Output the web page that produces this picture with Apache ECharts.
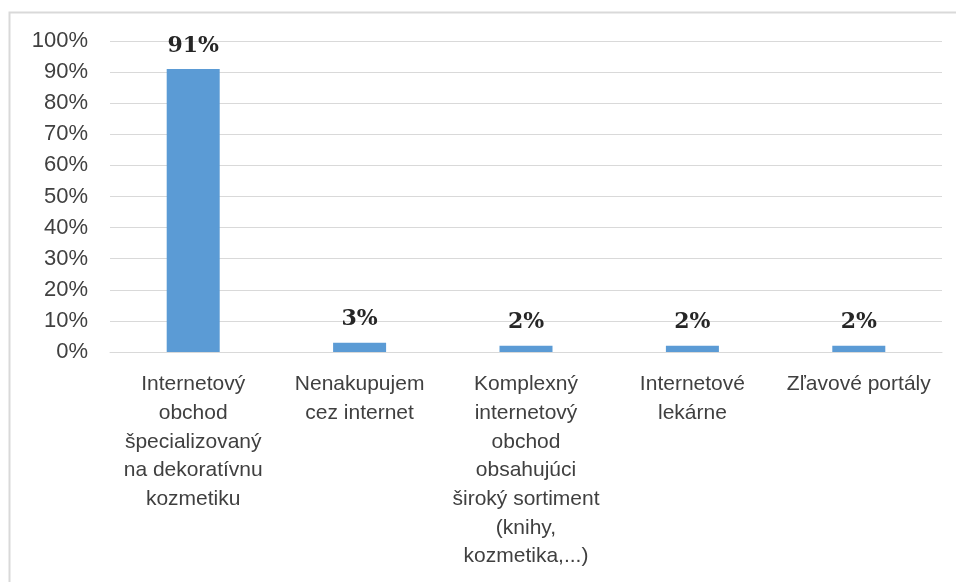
<!DOCTYPE html>
<html>
<head>
<meta charset="utf-8">
<script src="https://cdn.jsdelivr.net/npm/echarts@6/dist/echarts.min.js"></script>
<style>
  html, body { margin: 0; padding: 0; background: #fff; }
  #chart { width: 956px; height: 582px; }
</style>
</head>
<body>
<div id="chart"></div>
<script>
const categories = [
  "Internetový\nobchod\nšpecializovaný\nna dekoratívnu\nkozmetiku",
  "Nenakupujem\ncez internet",
  "Komplexný\ninternetový\nobchod\nobsahujúci\nširoký sortiment\n(knihy,\nkozmetika,...)",
  "Internetové\nlekárne",
  "Zľavové portály"
];
const shares = [91, 3, 2, 2, 2];

const chart = echarts.init(document.getElementById("chart"));

chart.setOption({
  animation: false,
  graphic: [
    {
      type: "rect",
      shape: { x: 9.5, y: 12.5, width: 1000, height: 700 },
      style: { fill: "none", stroke: "#d9d9d9", lineWidth: 2 }
    }
  ],
  grid: {
    left: 110,
    right: 14,
    top: 41,
    bottom: 230
  },
  xAxis: {
    type: "category",
    data: categories,
    axisTick: { show: false },
    axisLine: { lineStyle: { color: "#d9d9d9", width: 1 } },
    axisLabel: {
      interval: 0,
      margin: 18,
      color: "#404040",
      fontFamily: "Liberation Sans",
      fontSize: 21,
      lineHeight: 28.7
    }
  },
  yAxis: {
    type: "value",
    min: 0,
    max: 100,
    interval: 10,
    axisLine: { show: false },
    axisTick: { show: false },
    splitLine: { lineStyle: { color: "#d9d9d9", width: 1 } },
    axisLabel: {
      formatter: "{value}%",
      margin: 22,
      color: "#404040",
      fontFamily: "Liberation Sans",
      fontSize: 22
    }
  },
  series: [
    {
      type: "bar",
      data: shares,
      barWidth: 53,
      itemStyle: { color: "#5b9bd5" },
      label: {
        show: true,
        position: "top",
        distance: 12,
        formatter: "{c}%",
        color: "#262626",
        fontFamily: "DejaVu Serif",
        fontWeight: "bold",
        fontSize: 22
      }
    }
  ]
});
</script>
</body>
</html>
